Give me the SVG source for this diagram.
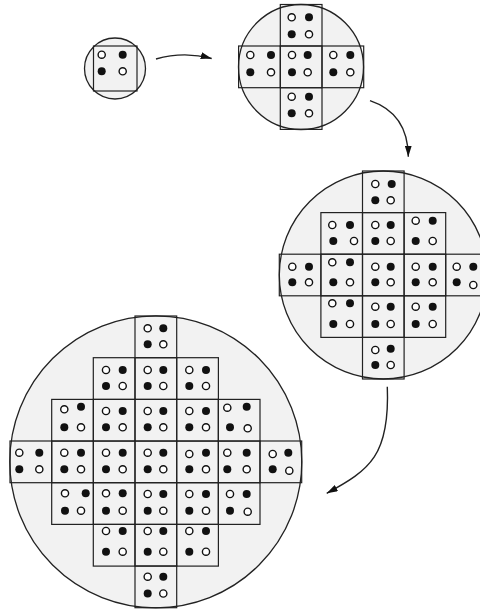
<svg xmlns="http://www.w3.org/2000/svg" width="480" height="610" viewBox="0 0 480 610">
<style>
.disc{fill:#f2f2f2;stroke:#222;stroke-width:1.3}
.cell{fill:none;stroke:#222;stroke-width:1.2}
.o{fill:#fff;stroke:#111;stroke-width:1.4}
.f{fill:#111}
.arr{fill:none;stroke:#222;stroke-width:1.4}
</style>
<defs>
<marker id="ah" markerUnits="userSpaceOnUse" markerWidth="11" markerHeight="7" refX="11" refY="3.5" orient="auto">
<path d="M0,0 L11,3.5 L0,7 z" fill="#111"/>
</marker>
</defs>
<rect width="480" height="610" fill="#fff"/>

<g id="stage1">
<circle class="disc" cx="115" cy="68.5" r="30.5"/>
<rect class="cell" x="93.5" y="46" width="43.5" height="45"/>
<circle class="o" cx="101.7" cy="54.7" r="3.6"/><circle class="f" cx="122.7" cy="54.7" r="4"/>
<circle class="f" cx="101.7" cy="71.3" r="4"/><circle class="o" cx="122.7" cy="71.3" r="3.6"/>
</g>

<g id="stage2">
<circle class="disc" cx="301" cy="67" r="62.5"/>
<rect class="cell" x="280.3" y="4.5" width="41.7" height="41.5"/>
<rect class="cell" x="238.6" y="46" width="41.7" height="41.7"/>
<rect class="cell" x="280.3" y="46" width="41.7" height="41.7"/>
<rect class="cell" x="322" y="46" width="41.7" height="41.7"/>
<rect class="cell" x="280.3" y="87.7" width="41.7" height="41.7"/>
<circle class="o" cx="291.7" cy="17.3" r="3.6"/><circle class="f" cx="309" cy="17.3" r="4"/><circle class="f" cx="291.7" cy="34.3" r="4"/><circle class="o" cx="309" cy="34.3" r="3.6"/>
<circle class="o" cx="250.3" cy="55" r="3.6"/><circle class="f" cx="271" cy="55" r="4"/><circle class="f" cx="250.3" cy="72.3" r="4"/><circle class="o" cx="271" cy="72.3" r="3.6"/>
<circle class="o" cx="292" cy="55" r="3.6"/><circle class="f" cx="307.7" cy="55" r="4"/><circle class="f" cx="292" cy="72.3" r="4"/><circle class="o" cx="307.7" cy="72.3" r="3.6"/>
<circle class="o" cx="333.3" cy="55" r="3.6"/><circle class="f" cx="350.3" cy="55" r="4"/><circle class="f" cx="333.3" cy="72.3" r="4"/><circle class="o" cx="350.3" cy="72.3" r="3.6"/>
<circle class="o" cx="291.7" cy="96.7" r="3.6"/><circle class="f" cx="309" cy="96.7" r="4"/><circle class="f" cx="291.7" cy="113.3" r="4"/><circle class="o" cx="309" cy="113.3" r="3.6"/>
</g>

<g id="stage3">
<circle class="disc" cx="383.3" cy="275" r="104"/>
<rect class="cell" x="362.5" y="171" width="41.6" height="41.6"/>
<rect class="cell" x="320.9" y="212.6" width="41.6" height="41.6"/>
<rect class="cell" x="362.5" y="212.6" width="41.6" height="41.6"/>
<rect class="cell" x="404.1" y="212.6" width="41.6" height="41.6"/>
<rect class="cell" x="279.3" y="254.2" width="41.6" height="41.6"/>
<rect class="cell" x="320.9" y="254.2" width="41.6" height="41.6"/>
<rect class="cell" x="362.5" y="254.2" width="41.6" height="41.6"/>
<rect class="cell" x="404.1" y="254.2" width="41.6" height="41.6"/>
<rect class="cell" x="445.7" y="254.2" width="41.6" height="41.6"/>
<rect class="cell" x="320.9" y="295.8" width="41.6" height="41.6"/>
<rect class="cell" x="362.5" y="295.8" width="41.6" height="41.6"/>
<rect class="cell" x="404.1" y="295.8" width="41.6" height="41.6"/>
<rect class="cell" x="362.5" y="337.4" width="41.6" height="41.6"/>
<circle class="o" cx="375.3" cy="184" r="3.6"/><circle class="f" cx="391.7" cy="184" r="4"/><circle class="f" cx="375.3" cy="200.3" r="4"/><circle class="o" cx="390.7" cy="200.3" r="3.6"/>
<circle class="o" cx="332.3" cy="225" r="3.6"/><circle class="f" cx="350" cy="225" r="4"/><circle class="f" cx="333.3" cy="241" r="4"/><circle class="o" cx="354" cy="241" r="3.6"/>
<circle class="o" cx="375.3" cy="225" r="3.6"/><circle class="f" cx="390.7" cy="225" r="4"/><circle class="f" cx="375.3" cy="241" r="4"/><circle class="o" cx="390.7" cy="241" r="3.6"/>
<circle class="o" cx="415.7" cy="220.7" r="3.6"/><circle class="f" cx="432.7" cy="220.7" r="4"/><circle class="f" cx="415.7" cy="241" r="4"/><circle class="o" cx="432.7" cy="241" r="3.6"/>
<circle class="o" cx="292.3" cy="266.7" r="3.6"/><circle class="f" cx="309" cy="266.7" r="4"/><circle class="f" cx="292.3" cy="282.3" r="4"/><circle class="o" cx="309" cy="282.3" r="3.6"/>
<circle class="o" cx="332.3" cy="262.3" r="3.6"/><circle class="f" cx="350" cy="262.3" r="4"/><circle class="f" cx="333.3" cy="282.3" r="4"/><circle class="o" cx="350" cy="282.3" r="3.6"/>
<circle class="o" cx="375.3" cy="266.7" r="3.6"/><circle class="f" cx="390.7" cy="266.7" r="4"/><circle class="f" cx="375.3" cy="282.3" r="4"/><circle class="o" cx="390.7" cy="282.3" r="3.6"/>
<circle class="o" cx="415.7" cy="266.7" r="3.6"/><circle class="f" cx="432.7" cy="266.7" r="4"/><circle class="f" cx="415.7" cy="282.3" r="4"/><circle class="o" cx="432.7" cy="282.3" r="3.6"/>
<circle class="o" cx="456.7" cy="266.7" r="3.6"/><circle class="f" cx="473.3" cy="266.7" r="4"/><circle class="f" cx="456.7" cy="282.3" r="4"/><circle class="o" cx="473.3" cy="285" r="3.6"/>
<circle class="o" cx="332.3" cy="303.3" r="3.6"/><circle class="f" cx="350" cy="303.3" r="4"/><circle class="f" cx="333.3" cy="324" r="4"/><circle class="o" cx="350" cy="324" r="3.6"/>
<circle class="o" cx="375.3" cy="306.7" r="3.6"/><circle class="f" cx="390.7" cy="306.7" r="4"/><circle class="f" cx="375.3" cy="324" r="4"/><circle class="o" cx="390.7" cy="324" r="3.6"/>
<circle class="o" cx="415.7" cy="306.7" r="3.6"/><circle class="f" cx="432.7" cy="306.7" r="4"/><circle class="f" cx="415.7" cy="324" r="4"/><circle class="o" cx="432.7" cy="324" r="3.6"/>
<circle class="o" cx="375.3" cy="350" r="3.6"/><circle class="f" cx="390.7" cy="348.7" r="4"/><circle class="f" cx="375.3" cy="365" r="4"/><circle class="o" cx="390.7" cy="365" r="3.6"/>
</g>

<g id="stage4">
<circle class="disc" cx="155.8" cy="461.8" r="146"/>
<rect class="cell" x="135" y="316" width="41.7" height="41.7"/>
<rect class="cell" x="93.3" y="357.7" width="41.7" height="41.7"/>
<rect class="cell" x="135" y="357.7" width="41.7" height="41.7"/>
<rect class="cell" x="176.7" y="357.7" width="41.7" height="41.7"/>
<rect class="cell" x="51.7" y="399.4" width="41.7" height="41.7"/>
<rect class="cell" x="93.3" y="399.4" width="41.7" height="41.7"/>
<rect class="cell" x="135" y="399.4" width="41.7" height="41.7"/>
<rect class="cell" x="176.7" y="399.4" width="41.7" height="41.7"/>
<rect class="cell" x="218.3" y="399.4" width="41.7" height="41.7"/>
<rect class="cell" x="10" y="441" width="41.7" height="41.7"/>
<rect class="cell" x="51.7" y="441" width="41.7" height="41.7"/>
<rect class="cell" x="93.3" y="441" width="41.7" height="41.7"/>
<rect class="cell" x="135" y="441" width="41.7" height="41.7"/>
<rect class="cell" x="176.7" y="441" width="41.7" height="41.7"/>
<rect class="cell" x="218.3" y="441" width="41.7" height="41.7"/>
<rect class="cell" x="260" y="441" width="41.7" height="41.7"/>
<rect class="cell" x="51.7" y="482.7" width="41.7" height="41.7"/>
<rect class="cell" x="93.3" y="482.7" width="41.7" height="41.7"/>
<rect class="cell" x="135" y="482.7" width="41.7" height="41.7"/>
<rect class="cell" x="176.7" y="482.7" width="41.7" height="41.7"/>
<rect class="cell" x="218.3" y="482.7" width="41.7" height="41.7"/>
<rect class="cell" x="93.3" y="524.4" width="41.7" height="41.7"/>
<rect class="cell" x="135" y="524.4" width="41.7" height="41.7"/>
<rect class="cell" x="176.7" y="524.4" width="41.7" height="41.7"/>
<rect class="cell" x="135" y="566" width="41.7" height="41.7"/>
<circle class="o" cx="147.7" cy="328.3" r="3.6"/><circle class="f" cx="163.3" cy="328.3" r="4"/><circle class="f" cx="147.7" cy="344.3" r="4"/><circle class="o" cx="163.3" cy="344.3" r="3.6"/>
<circle class="o" cx="106" cy="370" r="3.6"/><circle class="f" cx="122.7" cy="370" r="4"/><circle class="f" cx="106" cy="386" r="4"/><circle class="o" cx="122.7" cy="386" r="3.6"/>
<circle class="o" cx="147.7" cy="370" r="3.6"/><circle class="f" cx="163.3" cy="370" r="4"/><circle class="f" cx="147.7" cy="386" r="4"/><circle class="o" cx="163.3" cy="386" r="3.6"/>
<circle class="o" cx="189.3" cy="370" r="3.6"/><circle class="f" cx="206" cy="370" r="4"/><circle class="f" cx="189.3" cy="386" r="4"/><circle class="o" cx="206" cy="386" r="3.6"/>
<circle class="o" cx="64.3" cy="409.3" r="3.6"/><circle class="f" cx="81" cy="406.7" r="4"/><circle class="f" cx="64.3" cy="427.3" r="4"/><circle class="o" cx="81" cy="427.3" r="3.6"/>
<circle class="o" cx="106" cy="411" r="3.6"/><circle class="f" cx="122.7" cy="411" r="4"/><circle class="f" cx="106" cy="427.3" r="4"/><circle class="o" cx="122.7" cy="427.3" r="3.6"/>
<circle class="o" cx="147.7" cy="411" r="3.6"/><circle class="f" cx="163.3" cy="411" r="4"/><circle class="f" cx="147.7" cy="427.3" r="4"/><circle class="o" cx="163.3" cy="427.3" r="3.6"/>
<circle class="o" cx="189.3" cy="411" r="3.6"/><circle class="f" cx="206" cy="411" r="4"/><circle class="f" cx="189.3" cy="427.3" r="4"/><circle class="o" cx="206" cy="427.3" r="3.6"/>
<circle class="o" cx="227.3" cy="407.7" r="3.6"/><circle class="f" cx="246.7" cy="406.7" r="4"/><circle class="f" cx="230" cy="427.3" r="4"/><circle class="o" cx="247.7" cy="428.3" r="3.6"/>
<circle class="o" cx="19.3" cy="452.7" r="3.6"/><circle class="f" cx="39.3" cy="452.7" r="4"/><circle class="f" cx="19.3" cy="469.3" r="4"/><circle class="o" cx="39.3" cy="469.3" r="3.6"/>
<circle class="o" cx="64.3" cy="452.7" r="3.6"/><circle class="f" cx="81" cy="452.7" r="4"/><circle class="f" cx="64.3" cy="469.3" r="4"/><circle class="o" cx="81" cy="469.3" r="3.6"/>
<circle class="o" cx="106" cy="452.7" r="3.6"/><circle class="f" cx="122.7" cy="452.7" r="4"/><circle class="f" cx="106" cy="469.3" r="4"/><circle class="o" cx="122.7" cy="469.3" r="3.6"/>
<circle class="o" cx="147.7" cy="452.7" r="3.6"/><circle class="f" cx="163.3" cy="452.7" r="4"/><circle class="f" cx="147.7" cy="469.3" r="4"/><circle class="o" cx="163.3" cy="469.3" r="3.6"/>
<circle class="o" cx="189.3" cy="454" r="3.6"/><circle class="f" cx="206" cy="452.7" r="4"/><circle class="f" cx="189.3" cy="469.3" r="4"/><circle class="o" cx="206" cy="469.3" r="3.6"/>
<circle class="o" cx="227.3" cy="452.7" r="3.6"/><circle class="f" cx="246.7" cy="452.7" r="4"/><circle class="f" cx="227.3" cy="469.3" r="4"/><circle class="o" cx="246.7" cy="469.3" r="3.6"/>
<circle class="o" cx="272.7" cy="454" r="3.6"/><circle class="f" cx="288.3" cy="452.7" r="4"/><circle class="f" cx="272.7" cy="469.3" r="4"/><circle class="o" cx="289.3" cy="470.7" r="3.6"/>
<circle class="o" cx="65" cy="493.3" r="3.6"/><circle class="f" cx="85.7" cy="493.3" r="4"/><circle class="f" cx="65" cy="510.7" r="4"/><circle class="o" cx="81" cy="510.7" r="3.6"/>
<circle class="o" cx="106" cy="493.3" r="3.6"/><circle class="f" cx="122.7" cy="493.3" r="4"/><circle class="f" cx="106" cy="510.7" r="4"/><circle class="o" cx="122.7" cy="510.7" r="3.6"/>
<circle class="o" cx="147.7" cy="494" r="3.6"/><circle class="f" cx="163.3" cy="494" r="4"/><circle class="f" cx="147.7" cy="510.7" r="4"/><circle class="o" cx="163.3" cy="510.7" r="3.6"/>
<circle class="o" cx="189.3" cy="494" r="3.6"/><circle class="f" cx="206" cy="494" r="4"/><circle class="f" cx="189.3" cy="510.7" r="4"/><circle class="o" cx="206" cy="510.7" r="3.6"/>
<circle class="o" cx="230" cy="494" r="3.6"/><circle class="f" cx="246.7" cy="494" r="4"/><circle class="f" cx="230" cy="510.7" r="4"/><circle class="o" cx="247.7" cy="511.7" r="3.6"/>
<circle class="o" cx="106" cy="531" r="3.6"/><circle class="f" cx="122.7" cy="531" r="4"/><circle class="f" cx="106" cy="551.7" r="4"/><circle class="o" cx="122.7" cy="551.7" r="3.6"/>
<circle class="o" cx="147.7" cy="531" r="3.6"/><circle class="f" cx="163.3" cy="531" r="4"/><circle class="f" cx="147.7" cy="551.7" r="4"/><circle class="o" cx="163.3" cy="551.7" r="3.6"/>
<circle class="o" cx="189.3" cy="531" r="3.6"/><circle class="f" cx="206" cy="531" r="4"/><circle class="f" cx="189.3" cy="551.7" r="4"/><circle class="o" cx="206" cy="551.7" r="3.6"/>
<circle class="o" cx="147.7" cy="576.7" r="3.6"/><circle class="f" cx="163.3" cy="576.7" r="4"/><circle class="f" cx="147.7" cy="593.5" r="4"/><circle class="o" cx="163.3" cy="593.5" r="3.6"/>
</g>

<g id="connectors">
<path class="arr" d="M156,59 Q184,51 211.7,58.5" marker-end="url(#ah)"/>
<path class="arr" d="M370,100.7 Q408,113.5 408.3,156.7" marker-end="url(#ah)"/>
<path class="arr" d="M387.3,386.7 C390,455 370,470 326.7,493.3" marker-end="url(#ah)"/>
</g>
</svg>
